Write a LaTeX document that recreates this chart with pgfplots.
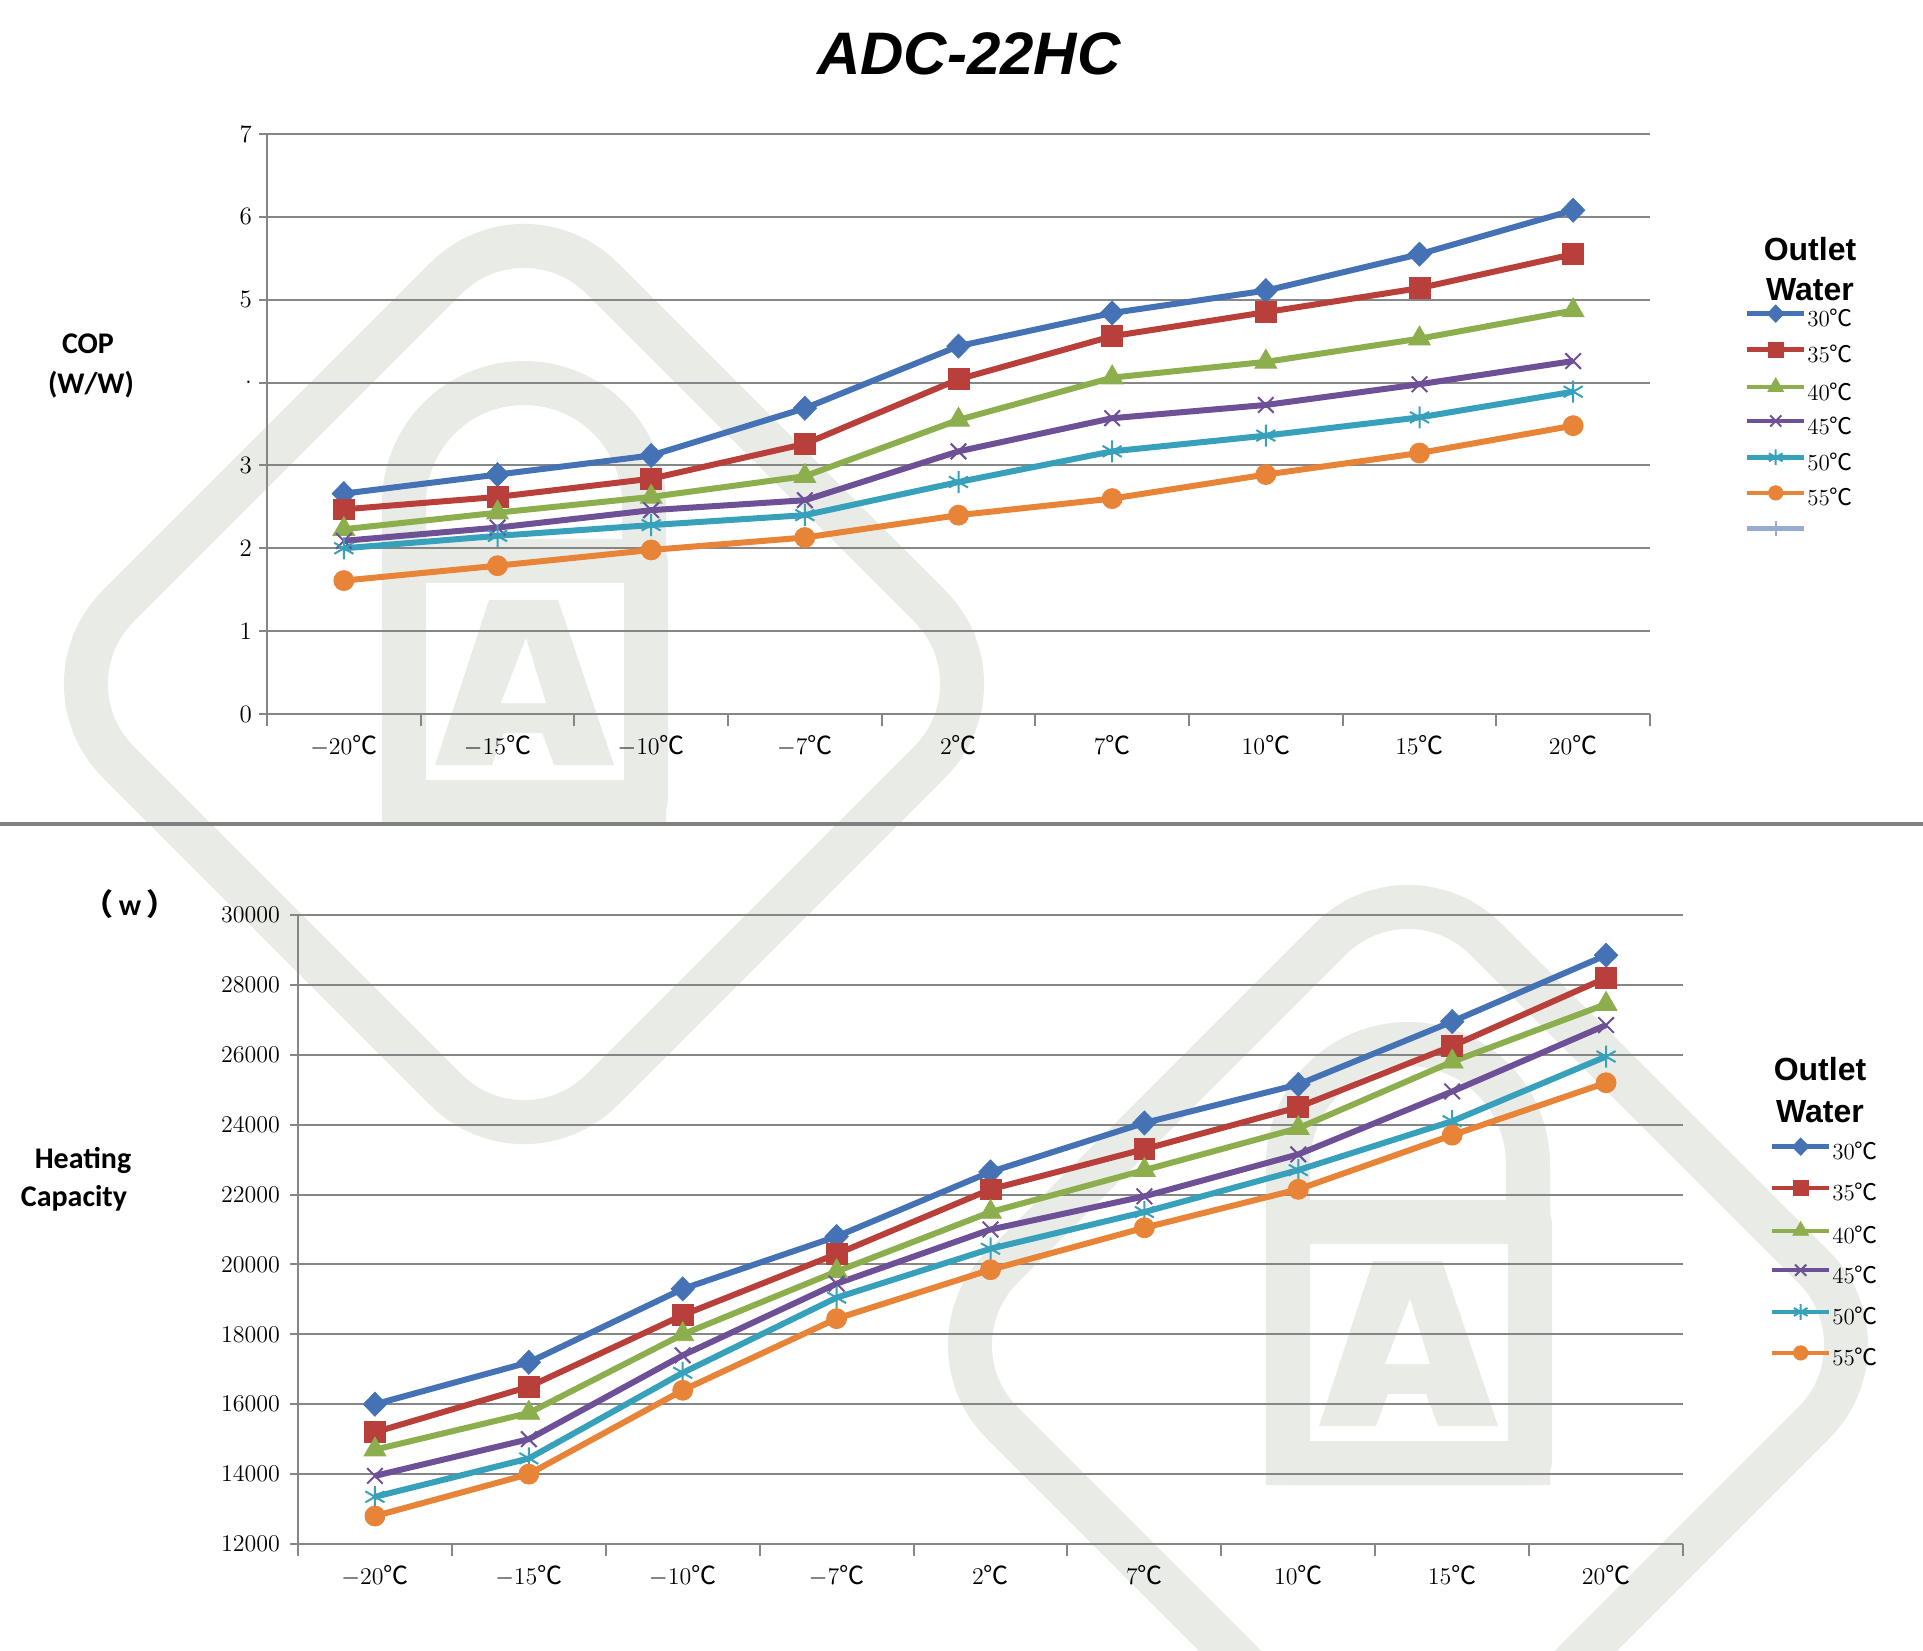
\documentclass[border=0pt]{standalone}
\usepackage{pgfplots}
\pgfplotsset{compat=1.18}
\usepackage{pgfplotstable}
\usepackage{fontspec}
\newfontfamily\cjk{Noto Sans CJK SC}
\newfontfamily\carl{Carlito}
\newfontfamily\lib{Liberation Sans}
\newcommand{\dc}{{\cjk ℃}}

\definecolor{cblue}{RGB}{68,114,180}
\definecolor{cred}{RGB}{185,64,58}
\definecolor{cgreen}{RGB}{140,174,76}
\definecolor{cpurple}{RGB}{110,80,150}
\definecolor{cteal}{RGB}{55,160,186}
\definecolor{corange}{RGB}{232,132,56}
\definecolor{clight}{RGB}{150,172,212}
\definecolor{axgray}{RGB}{134,134,134}
\definecolor{sepgray}{RGB}{128,128,128}
\definecolor{wm}{RGB}{233,235,231}

\pgfplotstableread{
x c30 c35 c40 c45 c50 c55
0 2.66 2.47 2.23 2.09 2.00 1.61
1 2.89 2.62 2.43 2.25 2.15 1.79
2 3.12 2.84 2.62 2.46 2.28 1.98
3 3.69 3.26 2.87 2.58 2.40 2.13
4 4.44 4.04 3.55 3.17 2.80 2.40
5 4.84 4.56 4.06 3.57 3.17 2.60
6 5.11 4.85 4.25 3.73 3.36 2.89
7 5.55 5.14 4.53 3.98 3.58 3.15
8 6.08 5.55 4.87 4.26 3.89 3.48
}\copdata

\pgfplotstableread{
x c30 c35 c40 c45 c50 c55
0 16000 15200 14700 13950 13350 12800
1 17200 16500 15750 15000 14450 14000
2 19300 18550 18000 17400 16900 16400
3 20800 20300 19800 19450 19050 18450
4 22650 22150 21500 21000 20450 19850
5 24050 23300 22700 21950 21500 21050
6 25150 24500 23900 23150 22700 22150
7 26950 26250 25800 24950 24100 23700
8 28850 28200 27450 26850 25950 25200
}\capdata

\pgfplotsset{
  base/.style={
    scale only axis,
    xmin=-0.5, xmax=8.5,
    xtick={0,...,8},
    xticklabels={$-20$\dc,$-15$\dc,$-10$\dc,$-7$\dc,$2$\dc,$7$\dc,$10$\dc,$15$\dc,$20$\dc},
    minor xtick={-0.5,0.5,...,8.5},
    axis x line*=bottom, axis y line*=left,
    every non boxed x axis/.style={}, every non boxed y axis/.style={},
    axis line style={draw=axgray,line width=1pt,-},
    ymajorgrids, major grid style={draw=axgray,line width=1pt},
    tick align=outside,
    major x tick style={draw=none},
    minor x tick style={draw=axgray,line width=1pt},
    minor tick length=6pt,
    ytick style={draw=axgray,line width=1pt},
    major tick length=4pt,
    tick label style={font=\fontsize{12.5}{14}\selectfont},
    xticklabel style={yshift=-3pt},
    clip=false,
    legend cell align=left,
    legend image code/.code={%
      \draw[mark repeat=2,mark phase=2,#1,yshift=3.5pt] plot coordinates {(0pt,0pt) (14.25pt,0pt) (28.5pt,0pt)};},
    legend image post style={line width=2.2pt, every mark/.append style={scale=0.72}},
  },
  lg/.style={draw=none, fill=none, inner sep=0pt, outer sep=0pt, column sep=0.5pt,
    nodes={inner sep=0pt, text height=8pt, text depth=2pt, font=\fontsize{11.5}{13}\selectfont}},
  s30/.style={color=cblue, line width=3pt, mark=diamond*, mark size=6pt, mark options={solid,line width=0.4pt,xscale=1.3}},
  s35/.style={color=cred, line width=3pt, mark=square*, mark size=5.2pt, mark options={solid,line width=0.4pt}},
  s40/.style={color=cgreen, line width=3pt, mark=triangle*, mark size=6.3pt, mark options={solid,line width=0.4pt}},
  s45/.style={color=cpurple, line width=3pt, mark=x, mark size=5.5pt, mark options={solid,line width=1pt}},
  s50/.style={color=cteal, line width=3pt, mark=asterisk, mark size=5.5pt, mark options={solid,line width=1pt}},
  s55/.style={color=corange, line width=3pt, mark=*, mark size=5pt, mark options={solid,line width=0.4pt}},
}

\newcommand{\logo}[2]{%
\begin{scope}[shift={(#1,#2)}]
 \draw[wm, line width=22pt, rounded corners=55pt, rotate=45] (-342,-342) rectangle (342,342);
 \draw[wm, line width=22pt] (-120,-181) arc[start angle=180,end angle=360,radius=120] -- (120,118) -- (-120,118) -- cycle;
 \fill[wm, rounded corners=12pt] (-142,-145) rectangle (144,140);
 \fill[white] (-98,-101) rectangle (100,96);
 \fill[wm] (-89,81) -- (90,81) -- (34,-84) -- (-35,-84) -- cycle;
 \fill[white] (2,-46) -- (-23,19) -- (22,19) -- cycle;
 \fill[white] (-20,49) -- (18,49) -- (30,81) -- (-32,81) -- cycle;
\end{scope}}

\begin{document}
\begin{tikzpicture}
\useasboundingbox (0pt,0pt) rectangle (961.5pt,-825pt);
\begin{scope}
 \clip (0pt,0pt) rectangle (961.5pt,-825pt);
 \begin{scope}[x=0.5pt,y=-0.5pt]
  \logo{524}{684}
  \logo{1408}{1345}
 \end{scope}
\end{scope}
\draw[sepgray, line width=2pt] (0pt,-412pt) -- (961.5pt,-412pt);

\begin{axis}[base,
  at={(133.5pt,-357pt)}, anchor=south west,
  width=691.5pt, height=290pt,
  ymin=0, ymax=7, ytick={0,...,7}, yticklabels={0,1,2,3,.,5,6,7},
  legend style={lg, at={(axis description cs:1.0687,0.7052)}, anchor=north west, row sep=5.7pt},
]
\addplot[s30] table[x=x,y=c30]{\copdata}; \addlegendentry{30\dc}
\addplot[s35] table[x=x,y=c35]{\copdata}; \addlegendentry{35\dc}
\addplot[s40] table[x=x,y=c40]{\copdata}; \addlegendentry{40\dc}
\addplot[s45] table[x=x,y=c45]{\copdata}; \addlegendentry{45\dc}
\addplot[s50] table[x=x,y=c50]{\copdata}; \addlegendentry{50\dc}
\addplot[s55] table[x=x,y=c55]{\copdata}; \addlegendentry{55\dc}
\addlegendimage{color=clight, line width=2.5pt, mark=|, mark size=5pt, mark options={solid,line width=1pt}}
\addlegendentry{}
\end{axis}

\begin{axis}[base,
  at={(149pt,-772pt)}, anchor=south west,
  width=692.5pt, height=314.5pt,
  ymin=12000, ymax=30000, ytick={12000,14000,...,30000},
  scaled y ticks=false,
  yticklabel style={/pgf/number format/1000 sep={}, xshift=-1.5pt},
  legend style={lg, at={(axis description cs:1.0628,0.6455)}, anchor=north west, row sep=8.4pt},
]
\addplot[s30] table[x=x,y=c30]{\capdata}; \addlegendentry{30\dc}
\addplot[s35] table[x=x,y=c35]{\capdata}; \addlegendentry{35\dc}
\addplot[s40] table[x=x,y=c40]{\capdata}; \addlegendentry{40\dc}
\addplot[s45] table[x=x,y=c45]{\capdata}; \addlegendentry{45\dc}
\addplot[s50] table[x=x,y=c50]{\capdata}; \addlegendentry{50\dc}
\addplot[s55] table[x=x,y=c55]{\capdata}; \addlegendentry{55\dc}
\end{axis}

\node[anchor=base, font=\lib\bfseries\itshape\fontsize{30}{36}\selectfont] at (484.5pt,-37pt) {ADC-22HC};
\node[anchor=base, font=\carl\bfseries\fontsize{15}{18}\selectfont] at (44pt,-176.5pt) {COP};
\node[anchor=base, font=\carl\bfseries\fontsize{15}{18}\selectfont] at (45.5pt,-196.5pt) {(W/W)};
\node[anchor=base, font=\carl\bfseries\fontsize{15}{18}\selectfont] at (65pt,-457.5pt) {{\cjk （}\,w\,{\cjk ）}};
\node[anchor=base, font=\carl\bfseries\fontsize{15}{18}\selectfont] at (41.5pt,-584pt) {Heating};
\node[anchor=base, font=\carl\bfseries\fontsize{15}{18}\selectfont] at (37pt,-603pt) {Capacity};
\node[anchor=base, font=\lib\bfseries\fontsize{16}{19}\selectfont] at (905pt,-130pt) {Outlet};
\node[anchor=base, font=\lib\bfseries\fontsize{16}{19}\selectfont] at (905pt,-150pt) {Water};
\node[anchor=base, font=\lib\bfseries\fontsize{16}{19}\selectfont] at (910pt,-540pt) {Outlet};
\node[anchor=base, font=\lib\bfseries\fontsize{16}{19}\selectfont] at (910pt,-561pt) {Water};
\end{tikzpicture}
\end{document}
